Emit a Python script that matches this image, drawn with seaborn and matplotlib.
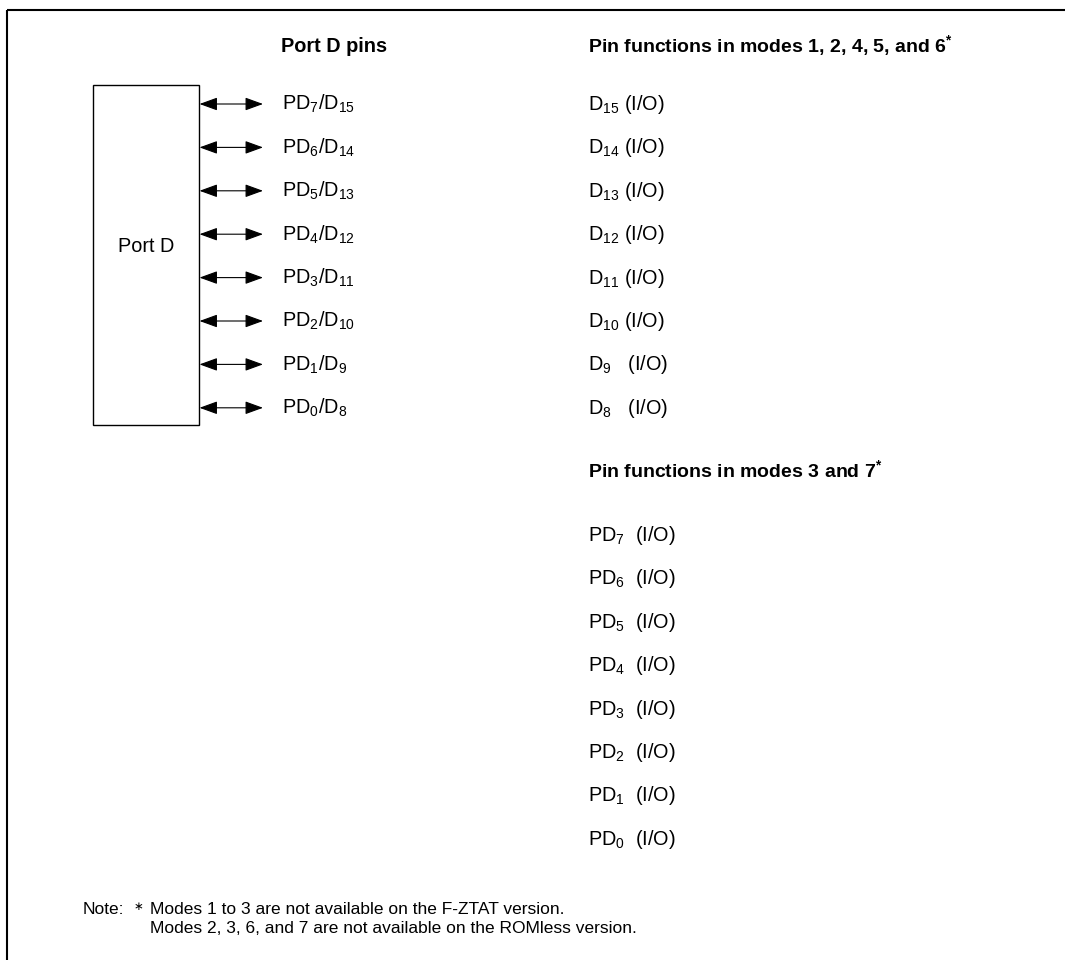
import matplotlib
matplotlib.use("Agg")
import matplotlib.pyplot as plt
import seaborn as sns
from matplotlib.patches import Rectangle

sns.set_theme(style="white")
plt.rcParams["font.family"] = ["Liberation Sans", "DejaVu Sans"]
plt.rcParams["mathtext.default"] = "regular"
plt.rcParams["text.color"] = "black"

# --- diagram content --------------------------------------------------------
block_name = "Port D"
pins_header = "Port D pins"
pin_labels = ["PD$_7$/D$_{15}$", "PD$_6$/D$_{14}$", "PD$_5$/D$_{13}$", "PD$_4$/D$_{12}$",
              "PD$_3$/D$_{11}$", "PD$_2$/D$_{10}$", "PD$_1$/D$_9$", "PD$_0$/D$_8$"]
header_a = "Pin functions in modes 1, 2, 4, 5, and 6$^{*}$"
funcs_a = ["D$_{15}$ (I/O)", "D$_{14}$ (I/O)", "D$_{13}$ (I/O)", "D$_{12}$ (I/O)",
           "D$_{11}$ (I/O)", "D$_{10}$ (I/O)", "D$_9$   (I/O)", "D$_8$   (I/O)"]
header_b = "Pin functions in modes 3 and 7$^{*}$"
funcs_b = ["PD$_7$  (I/O)", "PD$_6$  (I/O)", "PD$_5$  (I/O)", "PD$_4$  (I/O)",
           "PD$_3$  (I/O)", "PD$_2$  (I/O)", "PD$_1$  (I/O)", "PD$_0$  (I/O)"]
note_label = "Note:"
note_lines = ["Modes 1 to 3 are not available on the F-ZTAT version.",
              "Modes 2, 3, 6, and 7 are not available on the ROMless version."]

# --- layout (pixel coordinates) ---------------------------------------------
W, H = 1065, 960
FS = 14.3      # body text
HFS = 14       # bold headers
NFS = 12.5     # note
ROW = 43.4
fig = plt.figure(figsize=(W / 100, H / 100), dpi=100)
ax = fig.add_axes([0, 0, 1, 1])
ax.set_xlim(0, W); ax.set_ylim(H, 0); ax.axis("off")

# outer frame (top + left only)
ax.plot([7, W], [10, 10], color="black", lw=1.5, solid_capstyle="butt")
ax.plot([7, 7], [10, H], color="black", lw=1.5, solid_capstyle="butt")

# block
ax.add_patch(Rectangle((93, 85), 106, 340, fill=False, ec="black", lw=1.0))
ax.text(146, 247, block_name, fontsize=FS, ha="center", va="center")

ax.text(281, 52, pins_header, fontsize=HFS + 0.3, fontweight="bold", ha="left", va="baseline")
ax.text(588, 52, header_a, fontsize=HFS, fontweight="bold", ha="left", va="baseline")

for i, (lab, fa) in enumerate(zip(pin_labels, funcs_a)):
    y = 104 + i * ROW
    ax.annotate("", xy=(263, y), xytext=(199.5, y),
                arrowprops=dict(arrowstyle="<|-|>,head_length=1.1,head_width=0.4",
                                color="black", lw=0.8, mutation_scale=10,
                                shrinkA=0, shrinkB=0))
    ax.text(282, y + 6, lab, fontsize=FS, ha="left", va="baseline")
    ax.text(588, y + 6, fa, fontsize=FS, ha="left", va="baseline")

ax.text(588, 477, header_b, fontsize=HFS, fontweight="bold", ha="left", va="baseline")
for i, fb in enumerate(funcs_b):
    ax.text(588, 541 + i * ROW, fb, fontsize=FS, ha="left", va="baseline")

ax.text(83, 914, note_label, fontsize=NFS, ha="left", va="baseline")
ax.text(134, 910, "\u2217", fontsize=8.5, ha="left", va="baseline", family="DejaVu Sans")
for j, line in enumerate(note_lines):
    ax.text(150, 914 + j * 19, line, fontsize=NFS, ha="left", va="baseline")

fig.savefig("out.png", dpi=100)
